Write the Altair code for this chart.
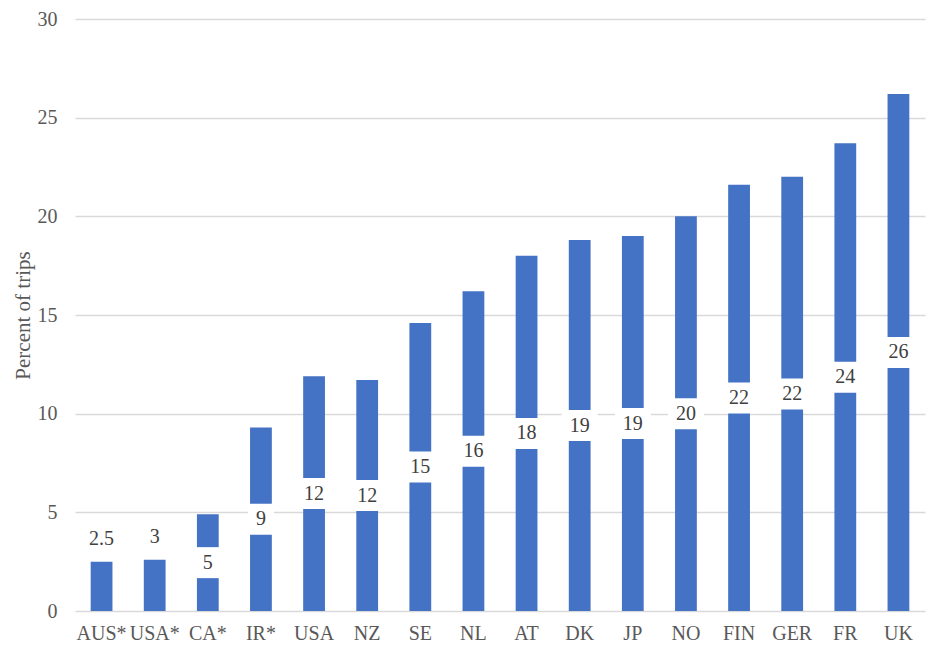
import altair as alt
import pandas as pd

countries = ["AUS*", "USA*", "CA*", "IR*", "USA ", "NZ", "SE", "NL", "AT", "DK", "JP", "NO", "FIN", "GER", "FR", "UK"]
values = [2.5, 2.6, 4.9, 9.3, 11.9, 11.7, 14.6, 16.2, 18.0, 18.8, 19.0, 20.0, 21.6, 22.0, 23.7, 26.2]
labels = ["2.5", "3", "5", "9", "12", "12", "15", "16", "18", "19", "19", "20", "22", "22", "24", "26"]

df = pd.DataFrame({"country": countries, "value": values, "label": labels})

FONT = "Liberation Serif"
BLUE = "#4472C4"

x = alt.X("country:N", sort=countries,
          scale=alt.Scale(paddingInner=0.59, paddingOuter=0.295),
          axis=alt.Axis(title=None, labelAngle=0, labelFont=FONT, labelFontSize=20,
                        labelColor="#595959", labelPadding=12, ticks=False, domain=False,
                        grid=False))
y = alt.Y("value:Q", scale=alt.Scale(domain=[0, 30], nice=False),
          axis=alt.Axis(title="Percent of trips", titleFont=FONT, titleFontSize=21,
                        titleFontWeight="normal", titleColor="#595959", titlePadding=4,
                        labelFont=FONT, labelFontSize=20, labelColor="#595959",
                        labelPadding=18, values=[0, 5, 10, 15, 20, 25, 30],
                        ticks=False, domain=False, gridColor="#d9d9d9", gridWidth=1.5))

bars = alt.Chart(df).mark_bar(color=BLUE).encode(x=x, y=y)

inside = alt.Chart(df).transform_filter("datum.value > 4").transform_calculate(
    mid="datum.value / 2", boxw="length(datum.label) * 10 + 16")

boxes = inside.mark_tick(color="white", thickness=31, opacity=1).encode(
    x=alt.X("country:N", sort=countries), y=alt.Y("mid:Q"),
    size=alt.Size("boxw:Q", scale=None, legend=None))

inner_text = inside.mark_text(font=FONT, fontSize=20, color="#404040", baseline="middle").encode(
    x=alt.X("country:N", sort=countries), y=alt.Y("mid:Q"), text="label:N")

outer_text = alt.Chart(df).transform_filter("datum.value <= 4").mark_text(
    font=FONT, fontSize=20, color="#404040", baseline="middle", dy=-23).encode(
    x=alt.X("country:N", sort=countries), y=alt.Y("value:Q"), text="label:N")

chart = alt.layer(bars, boxes, inner_text, outer_text).properties(
    width=850, height=592,
    autosize=alt.AutoSizeParams(type="none"),
    padding={"left": 67, "top": 11, "right": 5, "bottom": 40},
    background="white",
).configure_view(stroke=None)

chart.save("out.html", embed_options={"renderer": "svg", "actions": False})
